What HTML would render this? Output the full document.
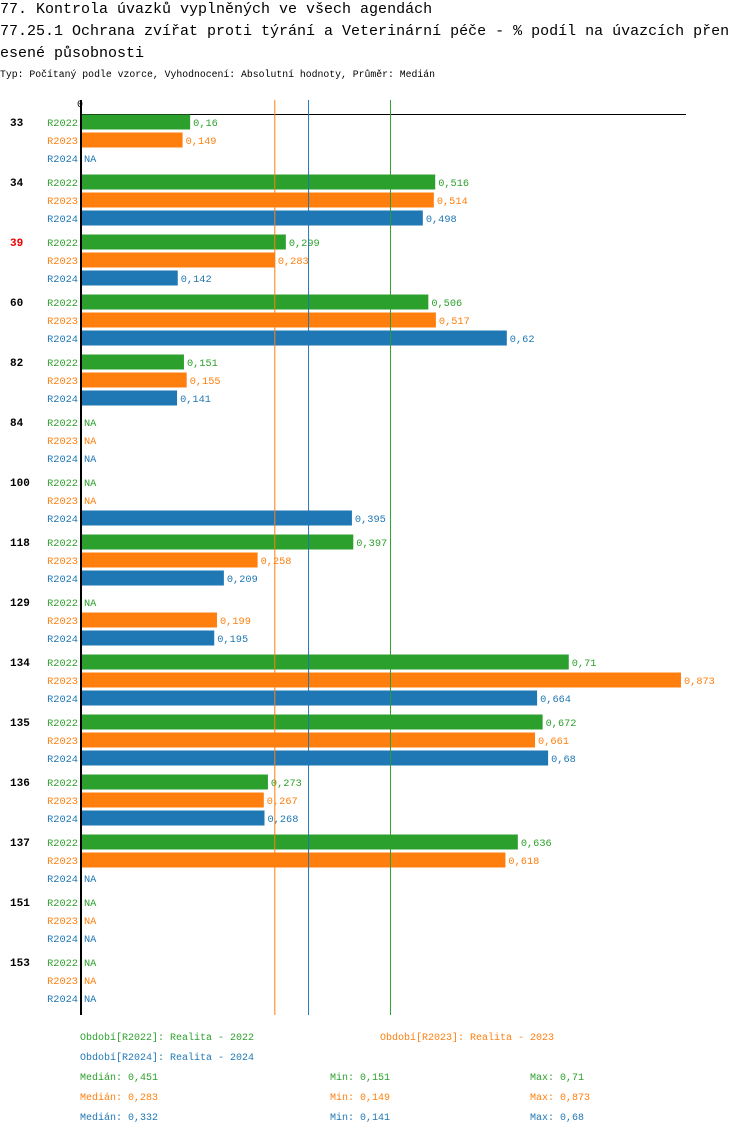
<!DOCTYPE html>
<html><head><meta charset="utf-8"><style>
body{margin:0;background:#fff;width:750px;height:1134px;overflow:hidden}
svg{display:block;font-family:"Liberation Mono","DejaVu Sans Mono",monospace}
</style></head><body>
<svg id="c" width="750" height="1134">
<text x="0" y="13" font-size="15">77. Kontrola úvazků vyplněných ve všech agendách</text>
<text x="0" y="35" font-size="15">77.25.1 Ochrana zvířat proti týrání a Veterinární péče - % podíl na úvazcích přen</text>
<text x="0" y="57" font-size="15">esené působnosti</text>
<text x="0" y="77" font-size="9.8">Typ: Počítaný podle vzorce, Vyhodnocení: Absolutní hodnoty, Průměr: Medián</text>
<text x="80" y="107" font-size="10" text-anchor="middle">0</text>
<line x1="80" y1="114.5" x2="686" y2="114.5" stroke="#000"/>
<g id="bars"></g>
<g id="meds"></g>
<rect x="80" y="100" width="2" height="915" fill="#000"/>
<g font-size="10">
<text x="80" y="1040" fill="#2ca02c">Období[R2022]: Realita - 2022</text>
<text x="380" y="1040" fill="#ff7f0e">Období[R2023]: Realita - 2023</text>
<text x="80" y="1060" fill="#1f77b4">Období[R2024]: Realita - 2024</text>
<text x="80" y="1080" fill="#2ca02c">Medián: 0,451</text>
<text x="330" y="1080" fill="#2ca02c">Min: 0,151</text>
<text x="530" y="1080" fill="#2ca02c">Max: 0,71</text>
<text x="80" y="1100" fill="#ff7f0e">Medián: 0,283</text>
<text x="330" y="1100" fill="#ff7f0e">Min: 0,149</text>
<text x="530" y="1100" fill="#ff7f0e">Max: 0,873</text>
<text x="80" y="1120" fill="#1f77b4">Medián: 0,332</text>
<text x="330" y="1120" fill="#1f77b4">Min: 0,141</text>
<text x="530" y="1120" fill="#1f77b4">Max: 0,68</text>
</g>
</svg>
<script>
const categories=["33","34","39","60","82","84","100","118","129","134","135","136","137","151","153"];
const highlighted=["39"];
const seriesNames=["R2022","R2023","R2024"];
const r2022=[0.16,0.516,0.299,0.506,0.151,null,null,0.397,null,0.71,0.672,0.273,0.636,null,null];
const r2023=[0.149,0.514,0.283,0.517,0.155,null,null,0.258,0.199,0.873,0.661,0.267,0.618,null,null];
const r2024=[null,0.498,0.142,0.62,0.141,null,0.395,0.209,0.195,0.664,0.68,0.268,null,null,null];
const medians=[0.451,0.283,0.332];
const colors=["#2ca02c","#ff7f0e","#1f77b4"];
const NS="http://www.w3.org/2000/svg";
const x=v=>80+v*688.4;
const rowY=(g,s)=>122+g*60+s*18;
const bars=document.getElementById('bars');
const series=[r2022,r2023,r2024];
function mk(t,a){const e=document.createElementNS(NS,t);for(const k in a)e.setAttribute(k,a[k]);return e;}
categories.forEach((c,g)=>{
  const t=mk('text',{x:10,y:rowY(g,0)+4,'font-size':11,'font-weight':'bold',fill:highlighted.includes(c)?'#e00':'#000'});
  
  
  t.textContent=c;bars.appendChild(t);
  series.forEach((arr,s)=>{
    const y=rowY(g,s);
    const l=mk('text',{x:78,y:y+4,'font-size':10.3,'text-anchor':'end',fill:colors[s]});
    
    
    l.textContent=seriesNames[s];bars.appendChild(l);
    const v=arr[g];
    if(v!=null){
      const r=mk('rect',{x:81,y:y-7.5,width:x(v)-81,height:15,fill:colors[s]});
      
      
      bars.appendChild(r);
    }
    const vt=mk('text',{x:(v!=null?x(v):81)+3,y:y+4,'font-size':10.3,fill:colors[s]});
    
    
    vt.textContent=v!=null?String(v).replace('.',','):'NA';bars.appendChild(vt);
  });
});
const meds=document.getElementById('meds');
medians.forEach((m,i)=>{
  const l=mk('line',{x1:x(m),x2:x(m),y1:100,y2:1015,stroke:colors[i],'stroke-width':1});
  
  
  meds.appendChild(l);
});
</script>
</body></html>
